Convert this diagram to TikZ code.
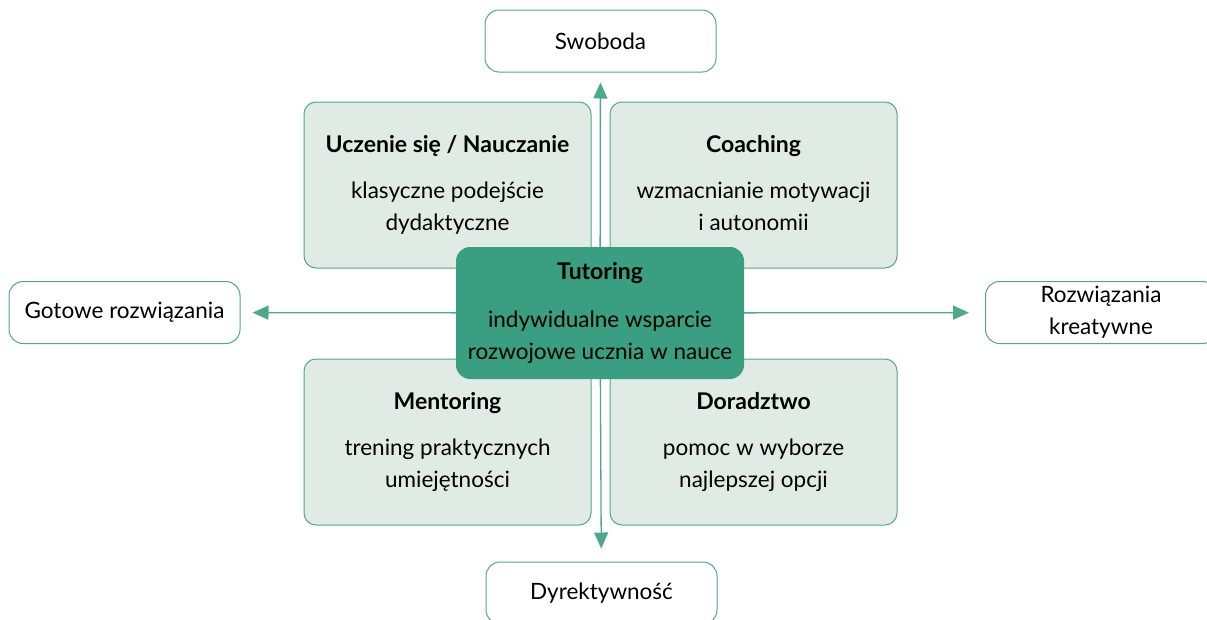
\documentclass[tikz,border=0pt]{standalone}
\usepackage{fontspec}
\setmainfont{Lato}
\usetikzlibrary{arrows.meta}
\definecolor{tealdark}{HTML}{3A9F80}
\definecolor{quadfill}{HTML}{E0EBE5}
\definecolor{edgegreen}{HTML}{4DAA88}
\newcommand{\ttl}[1]{{\fontsize{23}{32}\selectfont\bfseries\strut #1}}
\tikzset{
  txt/.style={font=\fontsize{22.5}{32}\selectfont, align=center, text=black},
  outerbox/.style={txt, draw=edgegreen, line width=1pt, fill=white, rounded corners=14pt,
    minimum width=231pt, minimum height=62pt, inner sep=0pt},
  quadbox/.style={txt, draw=edgegreen, line width=1pt, fill=quadfill, rounded corners=12pt,
    minimum width=287pt, minimum height=166pt, inner sep=0pt},
  centerbox/.style={txt, fill=tealdark, rounded corners=14pt,
    minimum width=288pt, minimum height=132pt, inner sep=0pt},
  axisarrow/.style={draw=edgegreen, line width=1.3pt, -{Triangle[length=16pt,width=14pt]}},
}
\begin{document}
\begin{tikzpicture}[x=1pt,y=-1pt]
\useasboundingbox (0,0) rectangle (1207,619);
\clip (0,0) rectangle (1207,619);
% outer boxes
\node[outerbox] (swoboda) at (600.5,41) {Swoboda};
\node[outerbox] (dyrek) at (601.5,593) {Dyrektywność};
\node[outerbox] (gotowe) at (124.5,312.5) {Gotowe rozwiązania};
\node[outerbox] (kreat) at (1101,312.5) {Rozwiązania\\kreatywne};
% quadrant boxes
\node[quadbox] (ul) at (447.5,185) {\ttl{Uczenie się / Nauczanie}\\[14pt]klasyczne podejście\\dydaktyczne\strut};
\node[quadbox] (ur) at (753.5,185) {\ttl{Coaching}\\[14pt]wzmacnianie motywacji\\i autonomii\strut};
\node[quadbox] (ll) at (447.5,442) {\ttl{Mentoring}\\[14pt]trening praktycznych\\umiejętności\strut};
\node[quadbox] (lr) at (753.5,442) {\ttl{Doradztwo}\\[14pt]pomoc w wyborze\\najlepszej opcji\strut};
% axes
\coordinate (o) at (600,313);
\draw[axisarrow, shorten >=10pt] (o) -- (swoboda);
\draw[axisarrow, shorten >=13pt] (o) -- (dyrek);
\draw[axisarrow, shorten >=12pt] (o) -- (gotowe);
\draw[axisarrow, shorten >=16pt] (o) -- (kreat);
% centre
\node[centerbox] (tut) at (600,313) {\ttl{Tutoring}\\[16pt]indywidualne wsparcie\\rozwojowe ucznia w nauce\strut};
\end{tikzpicture}
\end{document}
